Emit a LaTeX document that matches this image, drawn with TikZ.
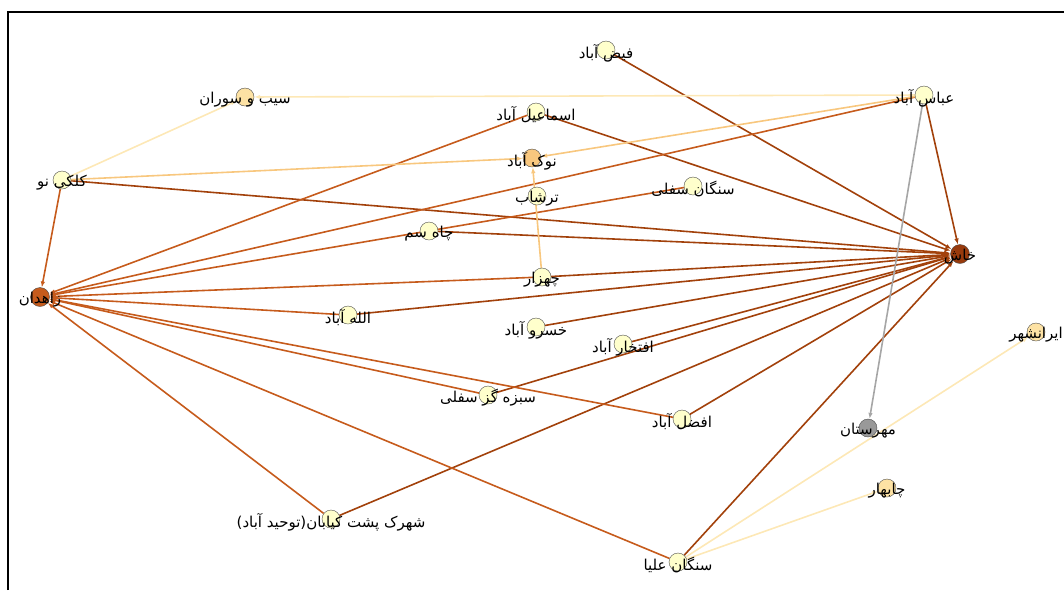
\documentclass[tikz,border=0pt]{standalone}
\usepackage{fontspec}
\newfontfamily\arabicfont[Script=Arabic]{DejaVu Sans}
\TeXXeTstate=1
\usetikzlibrary{arrows.meta, backgrounds}
\definecolor{paleyellow}{HTML}{FFFFCC}
\definecolor{lightorange}{HTML}{FDE2A4}
\definecolor{nokorange}{HTML}{F8C77E}
\definecolor{zahedanorange}{HTML}{C65B1C}
\definecolor{khashbrown}{HTML}{983A0C}
\definecolor{nodegray}{HTML}{999999}
\tikzset{
    every node/.style={font=\arabicfont\fontsize{15}{17}\selectfont},
    village/.style={circle, draw=black!70, fill=paleyellow, thin, minimum size=18pt, inner sep=0pt,
        label={[yshift=-3pt]center:{#1}}},
    tokhash/.style={-{Latex[length=6pt,width=4.5pt]}, draw=khashbrown!90!orange, line width=1.6pt},
    tozahedan/.style={-{Latex[length=6pt,width=4.5pt]}, draw=zahedanorange, line width=1.6pt},
    tonok/.style={-{Latex[length=6pt,width=4.5pt]}, draw=nokorange, line width=1.6pt},
    topale/.style={-{Latex[length=6pt,width=4.5pt]}, draw=lightorange!80!white, line width=1.6pt},
    togray/.style={-{Latex[length=6pt,width=4.5pt]}, draw=black!35, line width=1.6pt},
}

\begin{document}
\begin{tikzpicture}[x=1pt, y=-1pt]
   \useasboundingbox (0,0) rectangle (1064,590);
   \draw[line width=1.8pt] (8,590) -- (8,12) -- (1064,12);
% villages, placed at their positions in the layout
   \node[village={\beginR فیض آباد\endR}] (feyz) at (606,50) {};
   \node[village={\beginR سیب و سوران\endR}, fill=lightorange] (sib) at (245,97) {};
   \node[village={\beginR عباس آباد\endR}] (abbas) at (924,95) {};
   \node[village={\beginR اسماعیل آباد\endR}] (esmail) at (536,112) {};
   \node[village={\beginR نوک آباد\endR}, fill=nokorange] (nok) at (532,158) {};
   \node[village={\beginR کلکی نو\endR}] (kalleki) at (62,180) {};
   \node[village={\beginR سنگان سفلی\endR}] (sangsofla) at (693,186) {};
   \node[village={\beginR ترشاب\endR}] (tarshab) at (537,196) {};
   \node[village={\beginR چاه سم\endR}] (chahsam) at (429,231) {};
   \node[village={\beginR خاش\endR}, fill=khashbrown, minimum size=19pt] (khash) at (960,254) {};
   \node[village={\beginR چهزار\endR}] (chahzar) at (542,277) {};
   \node[village={\beginR زاهدان\endR}, fill=zahedanorange, minimum size=19pt] (zahedan) at (40,297) {};
   \node[village={\beginR الله آباد\endR}] (allah) at (348,315) {};
   \node[village={\beginR خسرو آباد\endR}] (khosrow) at (536,327) {};
   \node[village={\beginR ایرانشهر\endR}, fill=lightorange] (iranshahr) at (1036,332) {};
   \node[village={\beginR افتخار آباد\endR}] (eftekhar) at (623,344) {};
   \node[village={\beginR سبزه گز سفلی\endR}] (sabzeh) at (488,395) {};
   \node[village={\beginR افضل آباد\endR}] (afzal) at (682,419) {};
   \node[village={\beginR مهرستان\endR}, fill=nodegray] (mehrestan) at (868,428) {};
   \node[village={\beginR چابهار\endR}, fill=lightorange] (chabahar) at (887,488) {};
   \node[village={\beginR شهرک پشت کیابان(توحید آباد)\endR}] (shahrak) at (331,519) {};
   \node[village={\beginR سنگان علیا\endR}] (sangolya) at (678,562) {};
   \begin{scope}[on background layer]
% links into Khash
   \draw[tokhash] (feyz) -- (khash);
   \draw[tokhash] (abbas) -- (khash);
   \draw[tokhash] (esmail) -- (khash);
   \draw[tokhash] (kalleki) -- (khash);
   \draw[tokhash] (chahsam) -- (khash);
   \draw[tokhash] (chahzar) -- (khash);
   \draw[tokhash] (allah) -- (khash);
   \draw[tokhash] (khosrow) -- (khash);
   \draw[tokhash] (eftekhar) -- (khash);
   \draw[tokhash] (sabzeh) -- (khash);
   \draw[tokhash] (afzal) -- (khash);
   \draw[tokhash] (shahrak) -- (khash);
   \draw[tokhash] (sangolya) -- (khash);
% links into Zahedan
   \draw[tozahedan] (kalleki) -- (zahedan);
   \draw[tozahedan] (esmail) -- (zahedan);
   \draw[tozahedan] (abbas) -- (zahedan);
   \draw[tozahedan] (sangsofla) -- (zahedan);
   \draw[tozahedan] (chahzar) -- (zahedan);
   \draw[tozahedan] (allah) -- (zahedan);
   \draw[tozahedan] (afzal) -- (zahedan);
   \draw[tozahedan] (sabzeh) -- (zahedan);
   \draw[tozahedan] (sangolya) -- (zahedan);
   \draw[tozahedan] (shahrak) -- (zahedan);
% the lighter links
   \draw[tonok] (abbas) -- (nok);
   \draw[tonok] (kalleki) -- (nok);
   \draw[tonok] (chahzar) -- (nok);
   \draw[topale] (abbas) -- (sib);
   \draw[topale] (kalleki) -- (sib);
   \draw[topale] (sangolya) -- (iranshahr);
   \draw[topale] (sangolya) -- (chabahar);
   \draw[togray] (abbas) -- (mehrestan);
   \end{scope}
\end{tikzpicture}
\end{document}
